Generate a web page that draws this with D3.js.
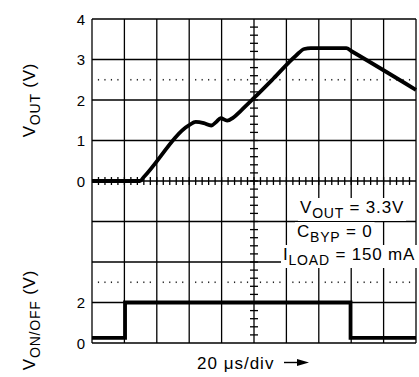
<!DOCTYPE html>
<html>
<head>
<meta charset="utf-8">
<script src="https://d3js.org/d3.v7.min.js"></script>
<style>
body { margin: 0; background: #fff; }
text { font-family: "Liberation Sans", Arial, sans-serif; fill: #000; }
</style>
</head>
<body>
<script>
// trace data, time in divisions (20 us/div)
var vOutTime  = [0, 1.48, 1.6, 3.0, 3.2, 3.45, 3.68, 3.85, 3.97, 4.17, 4.35, 4.6, 5.0, 5.6, 6.3, 6.55, 6.75, 7.85, 8.0, 10];
var vOutVolts = [0, 0, 0.1, 1.38, 1.46, 1.43, 1.37, 1.47, 1.55, 1.49, 1.56, 1.74, 2.05, 2.53, 3.1, 3.26, 3.28, 3.28, 3.21, 2.25];
var vOnTime  = [0, 1.02, 1.02, 7.98, 7.98, 10];
var vOnVolts = [0.25, 0.25, 2, 2, 0.25, 0.25];
var topTicks = [0, 1, 2, 3, 4];
var botTicks = [0, 2];

var width = 419, height = 377;
var svg = d3.select("body").append("svg")
  .attr("width", width).attr("height", height);

var x = d3.scaleLinear().domain([0, 10]).range([92, 416]);
var div = d3.scaleLinear().domain([0, 8]).range([19, 343]);   // vertical divisions
var yTop = d3.scaleLinear().domain([0, 4]).range([div(4), div(0)]);
var yBot = d3.scaleLinear().domain([0, 2]).range([div(8), div(7)]);

// grid
var grid = svg.append("g").attr("stroke", "#000").attr("stroke-width", 1.3);
grid.selectAll("line.v").data(d3.range(0, 11)).enter().append("line")
  .attr("x1", d => x(d)).attr("x2", d => x(d))
  .attr("y1", div(0)).attr("y2", div(8));
grid.selectAll("line.h").data(d3.range(0, 9)).enter().append("line")
  .attr("x1", x(0)).attr("x2", x(10))
  .attr("y1", d => div(d)).attr("y2", d => div(d));

// minor ticks on centre lines
var minorX = d3.range(1, 50).map(k => k / 5);
grid.selectAll("line.mx").data(minorX).enter().append("line")
  .attr("x1", d => x(d)).attr("x2", d => x(d))
  .attr("y1", div(4) - 4).attr("y2", div(4) + 4);
var minorY = d3.range(1, 40).map(k => k / 5);
grid.selectAll("line.my").data(minorY).enter().append("line")
  .attr("x1", x(5) - 4).attr("x2", x(5) + 4)
  .attr("y1", d => div(d)).attr("y2", d => div(d));

// dotted reference lines
var dots = minorX.filter(d => Math.round(d * 5) % 5 !== 0);
[yTop(2.5), yBot(3)].forEach(function(yy) {
  svg.append("g").selectAll("rect").data(dots).enter().append("rect")
    .attr("x", d => x(d) - 0.6).attr("y", yy - 0.8)
    .attr("width", 1.2).attr("height", 1.6).attr("fill", "#222");
});

// annotation with white masks
var notes = [
  {x: 300, y: 213, parts: [["V", 0], ["OUT", 1], [" = 3.3V", 0]]},
  {x: 297, y: 237, parts: [["C", 0], ["BYP", 1], [" = 0", 0]]},
  {x: 283, y: 260, parts: [["I", 0], ["LOAD", 1], [" = 150 mA", 0]]}
];
var maskG = svg.append("g");
var noteG = svg.append("g");
notes.forEach(function(n) {
  var t = noteG.append("text").attr("x", n.x).attr("y", n.y)
    .style("font-size", "17px").style("letter-spacing", "0.8px");
  var prev = 0;
  n.parts.forEach(function(p) {
    t.append("tspan").text(p[0])
      .attr("dy", (p[1] ? 5 : 0) - (prev ? 5 : 0))
      .style("font-size", p[1] ? "14px" : "17px");
    prev = p[1];
  });
  var b = t.node().getBBox();
  maskG.append("rect").attr("x", b.x - 2).attr("y", b.y)
    .attr("width", b.width + 4).attr("height", b.height).attr("fill", "#fff");
});

// traces
var line = d3.line().x(d => x(d[0])).curve(d3.curveMonotoneX);
svg.append("path")
  .datum(d3.zip(vOutTime, vOutVolts))
  .attr("d", line.y(d => yTop(d[1])))
  .attr("fill", "none").attr("stroke", "#000").attr("stroke-width", 3.8)
  .attr("stroke-linejoin", "round");
svg.append("path")
  .datum(d3.zip(vOnTime, vOnVolts))
  .attr("d", d3.line().x(d => x(d[0])).y(d => yBot(d[1]))(d3.zip(vOnTime, vOnVolts)))
  .attr("fill", "none").attr("stroke", "#000").attr("stroke-width", 3.8);

// tick labels
svg.append("g").selectAll("text").data(topTicks).enter().append("text")
  .attr("x", 85).attr("y", d => yTop(d) + 5.5).attr("text-anchor", "end")
  .style("font-size", "15px").text(d => d);
svg.append("g").selectAll("text").data(botTicks).enter().append("text")
  .attr("x", 85).attr("y", d => yBot(d) + 5.5).attr("text-anchor", "end")
  .style("font-size", "15px").text(d => d);

// axis titles
function title(tx, ty, parts) {
  var t = svg.append("text").attr("transform", "translate(" + tx + "," + ty + ") rotate(-90)")
    .attr("text-anchor", "middle").style("font-size", "17px").style("letter-spacing", "0.8px");
  var prev = 0;
  parts.forEach(function(p) {
    t.append("tspan").text(p[0])
      .attr("dy", (p[1] ? 5 : 0) - (prev ? 5 : 0))
      .style("font-size", p[1] ? "14px" : "17px");
    prev = p[1];
  });
}
title(35, 100, [["V", 0], ["OUT", 1], ["  (V)", 0]]);
title(35, 320, [["V", 0], ["ON/OFF", 1], ["  (V)", 0]]);

// time base label with arrow
svg.append("text").attr("x", 197).attr("y", 369)
  .style("font-size", "17px").style("letter-spacing", "1px")
  .text("20 \u03bcs/div");
svg.append("line").attr("x1", 284).attr("x2", 300).attr("y1", 362.5).attr("y2", 362.5)
  .attr("stroke", "#000").attr("stroke-width", 1.4);
svg.append("path").attr("d", "M309,362.5 L297,359 L297,366 Z").attr("fill", "#000");
</script>
</body>
</html>
